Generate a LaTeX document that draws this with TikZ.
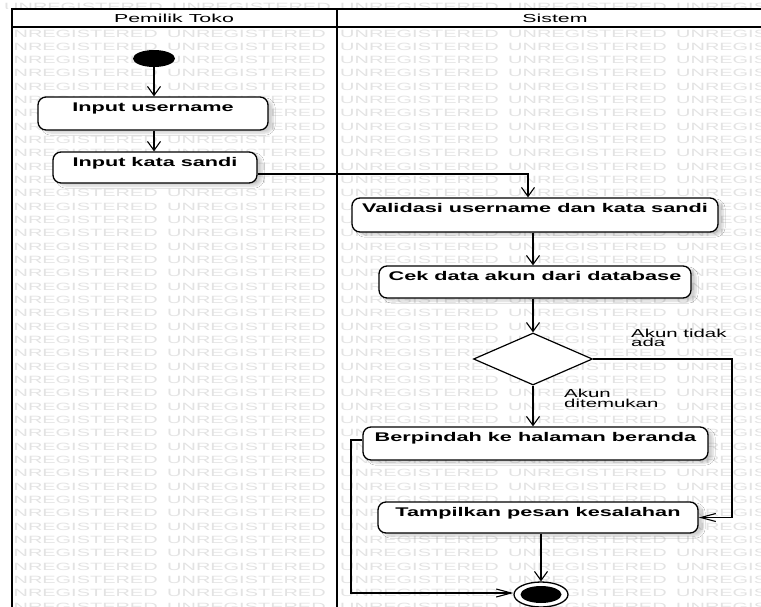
\documentclass[tikz,border=0pt]{standalone}
\usepackage{fontspec}
\setmainfont{Liberation Sans}
\newfontfamily\actfont{Liberation Sans}[FakeStretch=1.72]
\newfontfamily\lblfont{Liberation Sans}[FakeStretch=1.76]
\newfontfamily\hdrfont{Liberation Sans}[FakeStretch=1.84]
\newfontfamily\wmfont{Liberation Sans}[FakeStretch=1.9]
\usetikzlibrary{shapes.geometric,arrows.meta,shadows.blur}

\tikzset{
  lane/.style={line width=2.4pt},
  act/.style={draw, rounded corners=8pt, line width=1.3pt, fill=white,
    inner xsep=0pt, inner ysep=0pt, text height=14.5pt,
    font=\actfont\bfseries\fontsize{12.6}{14}\selectfont,
    blur shadow={shadow xshift=5pt, shadow yshift=-3pt, shadow opacity=18, shadow blur steps=8}},
  lbl/.style={inner sep=0pt, align=left, font=\lblfont\fontsize{11.6}{9.6}\selectfont},
  hdr/.style={inner sep=0pt, font=\hdrfont\fontsize{11.6}{13}\selectfont},
  wm/.style={inner sep=0pt, text=black!11, font=\wmfont\fontsize{10.5}{12}\selectfont},
  flow/.style={line width=1.1pt, -{Straight Barb[length=9pt,width=13pt]}},
  flowh/.style={line width=1.1pt, -{Straight Barb[length=15pt,width=8pt]}},
  initial/.style={ellipse, fill=black, inner sep=0pt},
  decision/.style={diamond, draw, line width=1.2pt, fill=white, inner sep=0pt},
}

\begin{document}
\begin{tikzpicture}[x=1pt, y=-1pt]
  \clip (0,0) rectangle (761,606);
  \fill[white] (0,0) rectangle (761,606);

  % watermark tiling, one block per lane plus the strip above the frame
  \begin{scope}
    \clip (0,0) rectangle (780,8.5);
    \foreach \c in {0,...,4}{
      \node[wm, anchor=base west] (wmT-\c) at (4+168*\c, 10.3) {UNREGISTERED};
    }
  \end{scope}
  \begin{scope}
    \clip (12,27) rectangle (337,610);
    \foreach \r in {0,...,43}{
      \foreach \c in {0,1,2}{
        \node[wm, anchor=base west] (wmL-\r-\c) at (-1+168*\c, 37+13.33*\r) {UNREGISTERED};
      }
    }
  \end{scope}
  \begin{scope}
    \clip (337,27) rectangle (780,610);
    \foreach \r in {0,...,43}{
      \foreach \c in {0,1,2}{
        \node[wm, anchor=base west] (wmR-\r-\c) at (340+168*\c, 37+13.33*\r) {UNREGISTERED};
      }
    }
  \end{scope}

  % swimlane frame
  \draw[lane] (12,620) -- (12,9) -- (780,9);
  \draw[lane] (12,27) -- (780,27);
  \draw[lane] (337,9) -- (337,620);
  \node[hdr] (hOwner) at (174,18) {Pemilik Toko};
  \node[hdr] (hSys) at (555,18) {Sistem};

  % activities
  \node[initial, minimum width=42pt, minimum height=17pt] (start) at (154,58.5) {};
  \node[act, minimum width=230pt, text depth=18.5pt] (u) at (153,113.5) {Input username};
  \node[act, minimum width=204pt, text depth=16.5pt] (k) at (155,167.5) {Input kata sandi};
  \node[act, minimum width=366pt, text depth=19.5pt] (v) at (535,215) {Validasi username dan kata sandi};
  \node[act, minimum width=312pt, text depth=17.5pt] (c) at (535,282) {Cek data akun dari database};
  \node[decision, minimum width=119pt, minimum height=52pt] (d) at (533,359) {};
  \node[act, minimum width=345pt, text depth=18.5pt] (b) at (535.5,443.5) {Berpindah ke halaman beranda};
  \node[act, minimum width=320pt, text depth=16.5pt] (t) at (538,517.5) {Tampilkan pesan kesalahan};
  \node[ellipse, draw, line width=1.3pt, fill=white, inner sep=0pt,
        minimum width=54pt, minimum height=25pt] (end) at (541,594.5) {};
  \node[initial, minimum width=41pt, minimum height=17pt] (endcore) at (end) {};

  % guard labels
  \node[lbl, anchor=north west] (gNo) at (631,328.5) {Akun tidak\\ada};
  \node[lbl, anchor=north west] (gYes) at (564,389) {Akun\\ditemukan};

  % control flow
  \coordinate (ax) at (533,0);
  \coordinate (kv) at (528,174);
  \coordinate (nr) at (732,359);
  \coordinate (bl) at (351,440);
  \draw[flow] (start.south) -- (start.south |- u.north);
  \draw[flow] (u.south -| start) -- (start |- k.north);
  \draw[flow] ([yshift=-6.5pt]k.east) -- (kv) -- (kv |- v.north);
  \draw[flow] (v.south -| ax) -- (c.north -| ax);
  \draw[flow] (c.south -| ax) -- (d.north);
  \draw[flow] (d.south) -- (d.south |- b.north);
  \draw[flowh] (d.east) -- (nr) |- (t.east);
  \draw[flowh] ([yshift=3.5pt]b.west) -- (bl) |- ([yshift=1.5pt]end.west);
  \draw[flow] (t.south -| end) -- (end.north);
\end{tikzpicture}
\end{document}
